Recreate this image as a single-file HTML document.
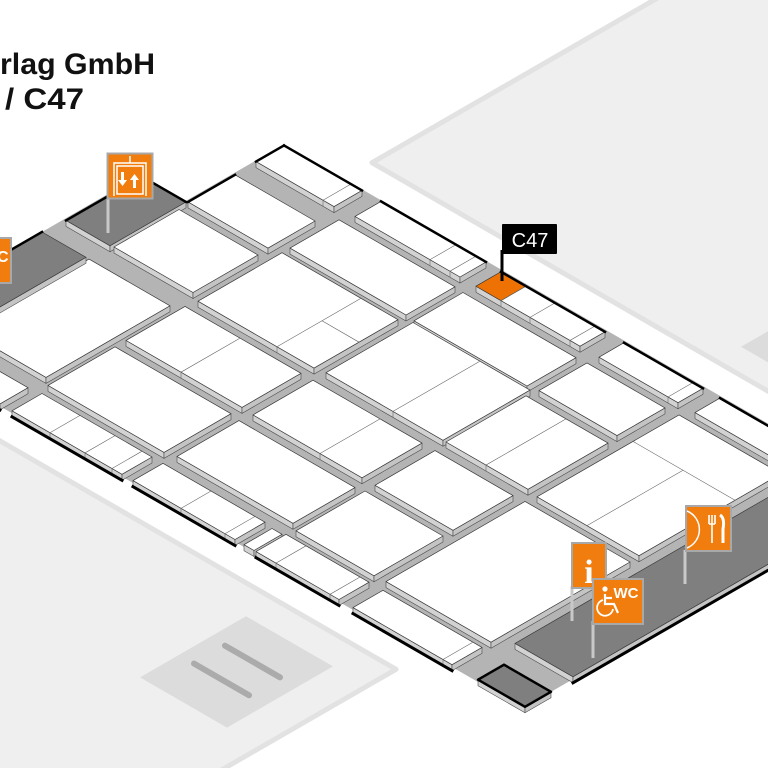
<!DOCTYPE html>
<html><head><meta charset="utf-8">
<style>html,body{margin:0;padding:0;background:#fff;overflow:hidden;width:768px;height:768px}svg{display:block;overflow:hidden}</style>
</head><body>
<svg id="m" width="768" height="768" viewBox="0 0 768 768" xmlns="http://www.w3.org/2000/svg">
<g id="bg"></g>
<g id="blk"></g>
<g id="fl">
  <line x1="108" y1="198" x2="108" y2="233" stroke="#c8c8c8" stroke-width="3"/>
  <rect x="107.5" y="153.5" width="45" height="45" fill="#f07d0e" stroke="#a8a8a8" stroke-width="2"/>
  <path d="M114 196 V163 H146 V196" fill="none" stroke="#fff" stroke-width="1.5"/>
  <line x1="130" y1="156" x2="130" y2="163" stroke="#fff" stroke-width="1.5"/>
  <rect x="117" y="166" width="26" height="28" fill="none" stroke="#fff" stroke-width="1.5"/>
  <path d="M121 172 h3 v8 h3 l-4.5 6 l-4.5 -6 h3z" fill="#fff"/>
  <path d="M133 188 h3 v-8 h3 l-4.5 -6 l-4.5 6 h3z" fill="#fff"/>
  <rect x="-5" y="238" width="16" height="45" fill="#f07d0e" stroke="#a8a8a8" stroke-width="2"/>
  <text x="-3" y="262" font-family="Liberation Sans, sans-serif" font-weight="bold" font-size="16" fill="#fff">C</text>
  <line x1="502" y1="250" x2="502" y2="281" stroke="#000" stroke-width="3"/>
  <rect x="502" y="224" width="55" height="30" rx="1" fill="#000"/>
  <text x="530" y="247" text-anchor="middle" font-family="Liberation Sans, sans-serif" font-size="20" fill="#fff">C47</text>
  <line x1="572" y1="586" x2="572" y2="621" stroke="#c8c8c8" stroke-width="3"/>
  <rect x="572" y="543" width="34" height="45" fill="#f07d0e" stroke="#a8a8a8" stroke-width="2"/>
  <text x="589" y="583" text-anchor="middle" font-family="Liberation Serif, serif" font-weight="bold" font-size="34" fill="#fff">i</text>
  <line x1="685" y1="550" x2="685" y2="584" stroke="#c8c8c8" stroke-width="3"/>
  <rect x="686" y="506" width="45" height="45" fill="#f07d0e" stroke="#a8a8a8" stroke-width="2"/>
  <path d="M687 511 A20 20 0 0 1 687 548" fill="none" stroke="#fff" stroke-width="1.5"/>
  <path d="M709 515 v9 M712 515 v9 M715 515 v9 M709 524 h6 M712 524 v19" stroke="#fff" stroke-width="1.6" fill="none"/>
  <path d="M720 515 q5 3 3 14 v14" stroke="#fff" stroke-width="3" fill="none"/>
  <line x1="593" y1="621" x2="593" y2="658" stroke="#c8c8c8" stroke-width="3"/>
  <rect x="593" y="579" width="50" height="45" fill="#f07d0e" stroke="#a8a8a8" stroke-width="2"/>
  <circle cx="605" cy="589" r="2.6" fill="#fff"/>
  <path d="M605 594 v10 h9 l4 9 M605 598 h7" stroke="#fff" stroke-width="2.2" fill="none"/>
  <path d="M603 600 a8 8 0 1 0 10 9" stroke="#fff" stroke-width="1.8" fill="none"/>
  <text x="626" y="598" text-anchor="middle" font-family="Liberation Sans, sans-serif" font-weight="bold" font-size="15" fill="#fff">WC</text>
  <text x="0" y="74" textLength="155" lengthAdjust="spacingAndGlyphs" font-family="Liberation Sans, sans-serif" font-weight="bold" font-size="30" fill="#111">rlag GmbH</text>
  <text x="5" y="109" textLength="79" lengthAdjust="spacingAndGlyphs" font-family="Liberation Sans, sans-serif" font-weight="bold" font-size="30" fill="#111">/ C47</text>
</g>
</svg>
<script>
const K=0.577;
const P=(s,t)=>[s+t,K*(s-t)];
const ps=a=>a.map(p=>p[0].toFixed(1)+','+p[1].toFixed(1)).join(' ');
const NS='http://www.w3.org/2000/svg';
function el(g,tag,attrs){const e=document.createElementNS(NS,tag);for(const k in attrs)e.setAttribute(k,attrs[k]);document.getElementById(g).appendChild(e);return e;}
function poly(g,pts,fill,stroke,sw){return el(g,'polygon',{points:ps(pts),fill:fill,stroke:stroke||'none','stroke-width':sw||0,'stroke-linejoin':'round'});}
function line(g,a,b,stroke,sw){return el(g,'line',{x1:a[0],y1:a[1],x2:b[0],y2:b[1],stroke:stroke,'stroke-width':sw,'stroke-linecap':'square'});}
poly('bg',[P(327,45),P(327,600),P(1100,600),P(1100,45)],'#efefef','#e2e2e2',5);
poly('bg',[P(671,70),P(671,170),P(770,170),P(770,70)],'#dcdcdc');
poly('bg',[P(778,-382),P(150,-382),P(150,-800),P(778,-800)],'#efefef','#e2e2e2',5);
poly('bg',[P(657,-411),P(744,-411),P(744,-517),P(657,-517)],'#dcdcdc');
[[-478],[-447]].forEach(([t])=>{const a=P(672,t),b=P(727,t);el('bg','line',{x1:a[0],y1:a[1],x2:b[0],y2:b[1],stroke:'#ababab','stroke-width':6,'stroke-linecap':'round'});});
poly('bg',[P(222,-352),P(222,-82),P(267,-82),P(267,17),P(875,17),P(875,-352)],'#b4b4b4');
const H=6;
const blocks=[];
function B(s1,s2,t1,t2,o){blocks.push(Object.assign({s1,s2,t1,t2},o||{}));}
B(222,266,-420,-180,{fill:'#7f7f7f',wallL:1});
B(224,268,-158,-82,{fill:'#7f7f7f',wallL:1,wallT:1});
B(269,350,-304,-180);
B(271,350,-157,-92);
B(269,349,-81,-34,{wallL:1});
B(268,346,-12,16,{wallT:1,wallL:1,ds:[335]});
B(269,350,-350,-322,{front:1});
B(358,474,-310,-243);
B(358,474,-232,-173,{ds:[413]});
B(360,476,-162,-78,{ds:[439],dt:[[-117,439,476]]});
B(360,476,-70,-21);
B(365,470,-10,16,{wallT:1,ds:[440,460]});
B(362,472,-350,-320,{front:1,ds:[400,435,462]});
B(484,600,-307,-245);
B(486,595,-233,-173,{ds:[553]});
B(486,603,-160,-73,{ds:[553]});
B(485,598,-71,-22);
B(486,590,-10,15,{wallT:1,ds:[511,540,580],orange:[486,511]});
B(483,585,-350,-320,{front:1,ds:[531,575]});
B(608,686,-312,-243);
B(608,686,-233,-173);
B(606,688,-160,-80,{ds:[646]});
B(608,686,-69,-21);
B(609,688,-10,15,{wallT:1,ds:[678]});
B(594,604,-350,-322);
B(606,689,-350,-320,{front:1,ds:[626,680]});
B(697,802,-311,-172);
B(699,801,-162,-20,{dt:[[-66,699,801]],ds2:[[749,-162,-66]]});
B(705,800,-10,15,{wallT:1,ds:[790]});
B(703,802,-350,-320,{front:1,ds:[793]});
B(815,873,-300,-20,{fill:'#7f7f7f',frontS:1});
B(818,838,-272,-232,{fill:'#8a8a8a'});
B(828,875,-350,-324,{fill:'#7f7f7f',box:1});
blocks.sort((a,b)=>(a.s2-a.t1)-(b.s2-b.t1));
for(const b of blocks){
  const L=P(b.s1,b.t1),T=P(b.s1,b.t2),R=P(b.s2,b.t2),Bt=P(b.s2,b.t1);
  const d=p=>[p[0],p[1]+H];
  poly('blk',[L,Bt,d(Bt),d(L)],'#d2d2d2','#4a4a4a',0.6);
  poly('blk',[Bt,R,d(R),d(Bt)],'#c4c4c4','#4a4a4a',0.6);
  poly('blk',[T,R,Bt,L],b.fill||'#fff','#3a3a3a',0.7);
  if(b.orange){poly('blk',[P(b.orange[0],b.t2),P(b.orange[1],b.t2),P(b.orange[1],b.t1),P(b.orange[0],b.t1)],'#ee7203','#3a3a3a',0.6);}
  (b.ds||[]).forEach(s=>{line('blk',P(s,b.t1),P(s,b.t2),'#666',0.6);line('blk',P(s,b.t1),[P(s,b.t1)[0],P(s,b.t1)[1]+H],'#666',0.6);});
  (b.dt||[]).forEach(([t,a,c])=>line('blk',P(a,t),P(c,t),'#666',0.6));
  (b.ds2||[]).forEach(([s,a,c])=>line('blk',P(s,a),P(s,c),'#666',0.6));
  if(b.wallT)line('blk',T,R,'#000',2.5);
  if(b.wallL)line('blk',L,T,'#000',2.5);
  if(b.front)line('blk',d(L),d(Bt),'#000',3);
  if(b.frontS)line('blk',d(Bt),d(R),'#000',3);
  if(b.box){poly('blk',[T,R,Bt,L],'none','#000',2.5);}
}
</script>
</body></html>
